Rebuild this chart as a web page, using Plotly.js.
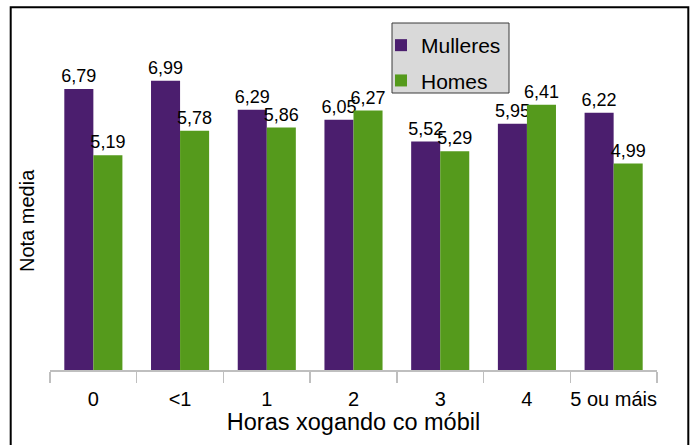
<!DOCTYPE html>
<html>
<head>
<meta charset="utf-8">
<script src="https://cdn.plot.ly/plotly-3.0.1.min.js"></script>
<style>
  html, body { margin: 0; padding: 0; background: #fff; }
  #chart { width: 693px; height: 445px; }
</style>
</head>
<body>
<div id="chart"></div>
<script>
const categories = ["0", "<1", "1", "2", "3", "4", "5 ou máis"];
const mulleres = [6.79, 6.99, 6.29, 6.05, 5.52, 5.95, 6.22];
const homes = [5.19, 5.78, 5.86, 6.27, 5.29, 6.41, 4.99];
const seriesNames = ["Mulleres", "Homes"];
const xTitle = "Horas xogando co móbil";
const yTitle = "Nota media";

const W = 693, H = 445;
const M = { l: 50, r: 36, t: 39, b: 75 };
const pw = W - M.l - M.r, ph = H - M.t - M.b;
const px2x = p => (p - M.l) / pw;
const py2y = p => (H - M.b - p) / ph;

const FONT = "Arial, 'Liberation Sans', sans-serif";

const common = {
  type: "bar",
  x: categories,
  textposition: "outside",
  texttemplate: "%{y:.2f}",
  textfont: { family: FONT, size: 18, color: "#000" },
  cliponaxis: false,
  constraintext: "none",
  hoverinfo: "x+y"
};

const data = [
  Object.assign({}, common, { y: mulleres, name: seriesNames[0], legendgroup: "a", marker: { color: "#4B1E6E" } }),
  Object.assign({}, common, { y: homes, name: seriesNames[1], legendgroup: "b", marker: { color: "#559A1C" } })
];

const layout = {
  width: W, height: H,
  margin: M,
  paper_bgcolor: "#fff",
  plot_bgcolor: "#fff",
  separators: ",.",
  font: { family: FONT, color: "#000" },
  barmode: "group",
  bargap: 0.33,
  bargroupgap: 0,
  showlegend: true,
  legend: {
    x: px2x(381), y: py2y(25), xanchor: "left", yanchor: "top",
    bgcolor: "rgba(0,0,0,0)", borderwidth: 0,
    font: { family: FONT, size: 21, color: "#000" },
    traceorder: "grouped", tracegroupgap: 5,
    itemwidth: 30
  },
  xaxis: {
    type: "category",
    showline: true, linecolor: "#BFBFBF", linewidth: 1.5,
    ticks: "outside", tickson: "boundaries", ticklen: 11, tickcolor: "#BFBFBF", tickwidth: 1.5,
    tickangle: 0, ticklabelstandoff: 10,
    tickfont: { family: FONT, size: 20, color: "#000" },
    showgrid: false, zeroline: false,
    automargin: false,
    title: { text: xTitle, font: { family: FONT, size: 23.5, color: "#000" }, standoff: 0 }
  },
  yaxis: {
    range: [0, 8],
    showline: false, showgrid: false, zeroline: false,
    showticklabels: false, ticks: "",
    automargin: false
  },
  annotations: [{
    text: yTitle, xref: "paper", yref: "paper",
    x: px2x(27), y: py2y(221), xanchor: "center", yanchor: "middle",
    textangle: -90, showarrow: false,
    font: { family: FONT, size: 20, color: "#000" }
  }],
  shapes: [
    {
      type: "rect", xref: "paper", yref: "paper",
      x0: px2x(392), x1: px2x(509), y0: py2y(93), y1: py2y(23),
      line: { color: "#3a3a3a", width: 1 }, fillcolor: "#D9D9D9", layer: "above"
    },
    {
      type: "rect", xref: "paper", yref: "paper",
      x0: px2x(10.7), x1: px2x(688.3), y0: py2y(470), y1: py2y(7.3),
      line: { color: "#000", width: 2 }, fillcolor: "rgba(0,0,0,0)", layer: "above"
    }
  ]
};

Plotly.newPlot("chart", data, layout, { displayModeBar: false, staticPlot: true });
</script>
</body>
</html>
